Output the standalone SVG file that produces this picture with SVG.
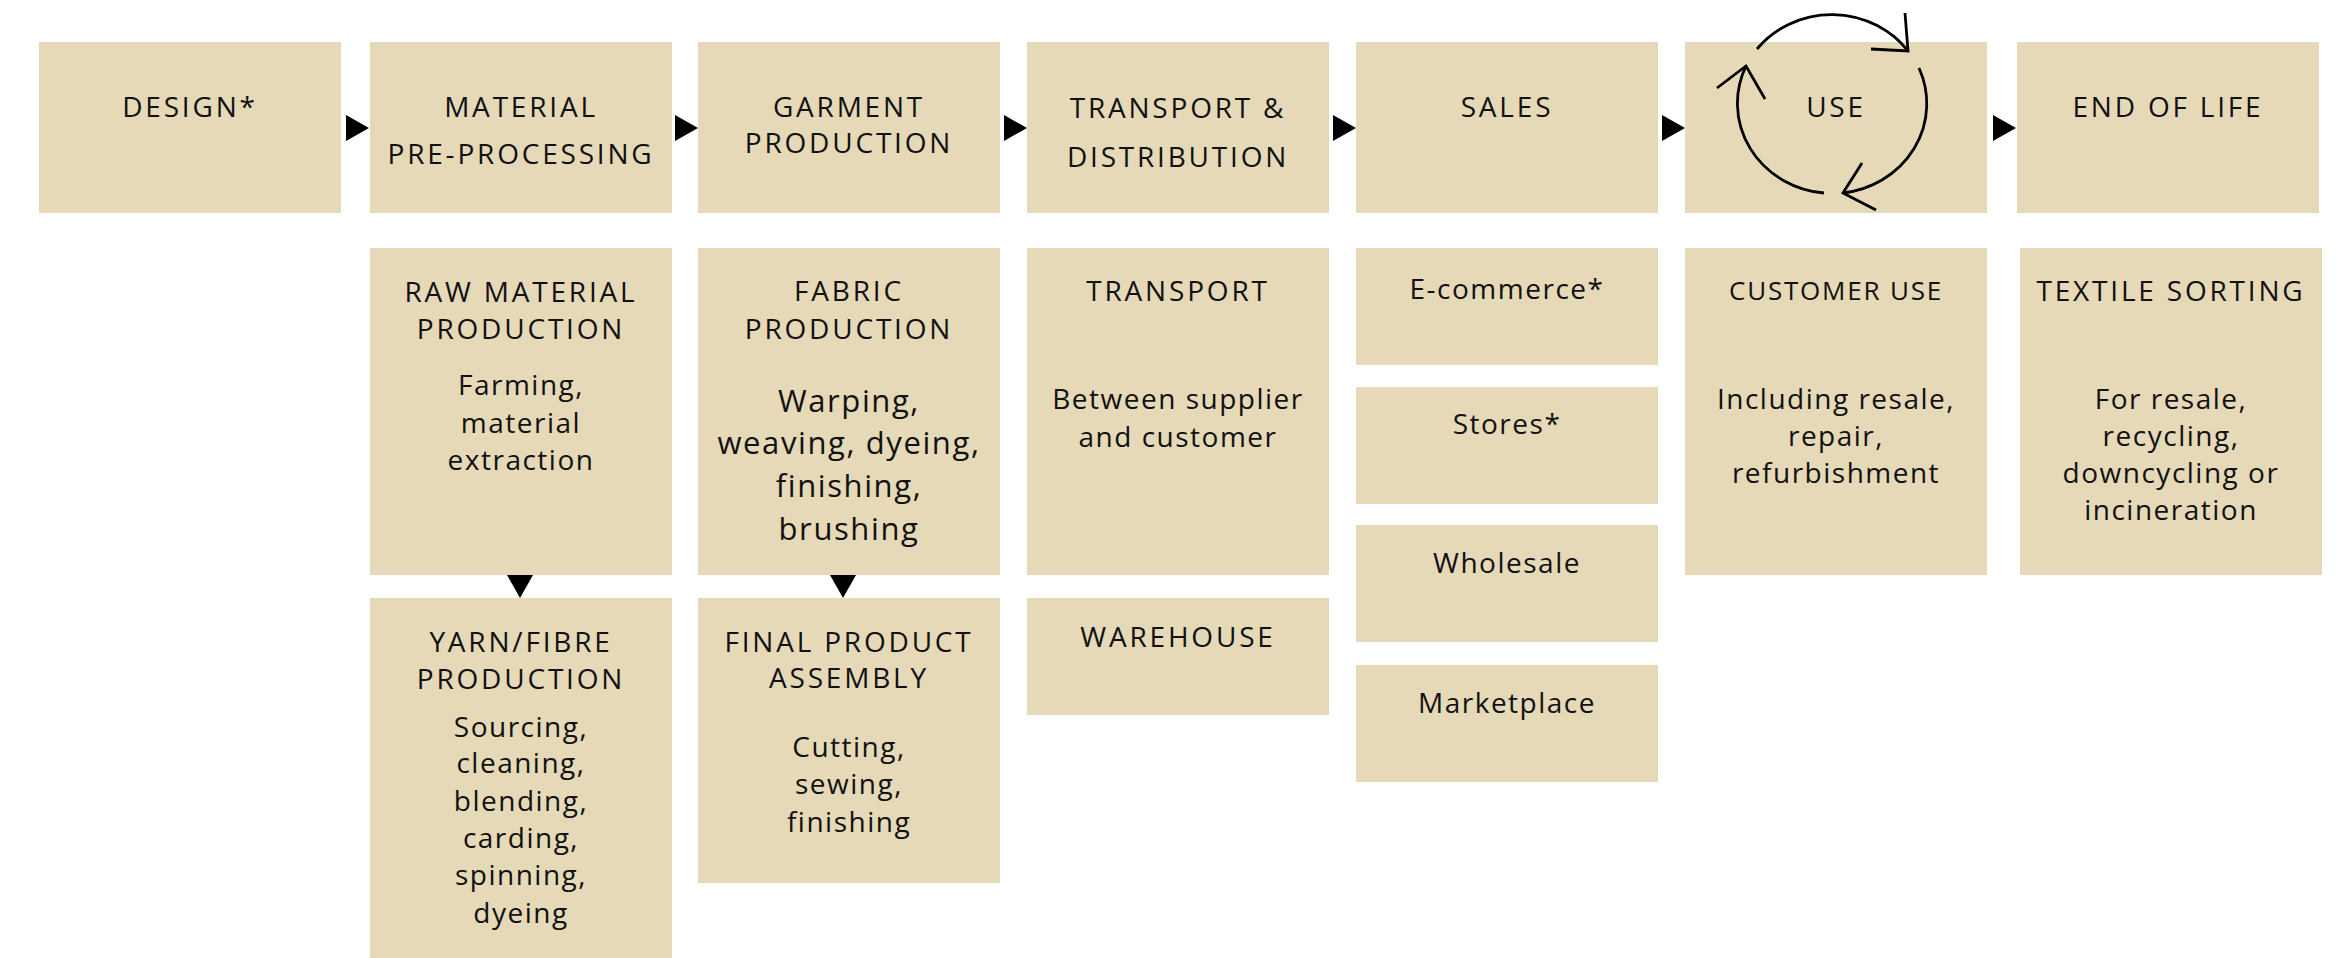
<svg xmlns="http://www.w3.org/2000/svg" width="2342" height="958" viewBox="0 0 2342 958">
  <style>
    .box { fill: #E5D9B7; }
    .hd { font-family: "Open Sans", "Liberation Sans", sans-serif; font-size: 28px; fill: #111; text-anchor: middle; letter-spacing: 2.8px; }
    .hd-s { font-size: 26px; letter-spacing: 1.8px; }
    .tx { font-family: "Open Sans", "Liberation Sans", sans-serif; font-size: 28px; fill: #111; text-anchor: middle; letter-spacing: 1.5px; }
    .tx-l { font-size: 31px; letter-spacing: 1.6px; }
    .arrow { fill: #000; }
    .cycle { fill: none; stroke: #000; stroke-width: 2.8; stroke-linecap: butt; stroke-linejoin: miter; }
  </style>

  <rect width="2342" height="958" fill="#fff"/>

  <!-- Stage headers -->
  <g id="design">
    <rect class="box" x="39" y="42" width="302" height="171"/>
    <text class="hd" x="190" y="117">DESIGN*</text>
  </g>
  <g id="material-pre-processing">
    <rect class="box" x="370" y="42" width="302" height="171"/>
    <text class="hd" x="521" y="117">MATERIAL</text>
    <text class="hd" x="521" y="164">PRE-PROCESSING</text>
  </g>
  <g id="garment-production">
    <rect class="box" x="698" y="42" width="302" height="171"/>
    <text class="hd" x="849" y="117">GARMENT</text>
    <text class="hd" x="849" y="153">PRODUCTION</text>
  </g>
  <g id="transport-distribution">
    <rect class="box" x="1027" y="42" width="302" height="171"/>
    <text class="hd" x="1178" y="118">TRANSPORT &amp;</text>
    <text class="hd" x="1178" y="167">DISTRIBUTION</text>
  </g>
  <g id="sales">
    <rect class="box" x="1356" y="42" width="302" height="171"/>
    <text class="hd" x="1507" y="117">SALES</text>
  </g>
  <g id="use">
    <rect class="box" x="1685" y="42" width="302" height="171"/>
    <text class="hd" x="1836" y="117">USE</text>
    <!-- circular reuse arrows -->
    <path class="cycle" d="M1757,49 A95,90 0 0 1 1908,51"/>
    <path class="cycle" d="M1871,49 L1908,51 L1905,13"/>
    <path class="cycle" d="M1919,68 A95,90 0 0 1 1843,193"/>
    <path class="cycle" d="M1862,163 L1843,193 L1876,210"/>
    <path class="cycle" d="M1824,193 A95,90 0 0 1 1746,66"/>
    <path class="cycle" d="M1717,88 L1746,66 L1765,99"/>
  </g>
  <g id="end-of-life">
    <rect class="box" x="2017" y="42" width="302" height="171"/>
    <text class="hd" x="2168" y="117">END OF LIFE</text>
  </g>

  <!-- Material pre-processing steps -->
  <g id="raw-material-production">
    <rect class="box" x="370" y="248" width="302" height="327"/>
    <text class="hd" x="521" y="302">RAW MATERIAL</text>
    <text class="hd" x="521" y="339">PRODUCTION</text>
    <text class="tx" x="521" y="395">Farming,</text>
    <text class="tx" x="521" y="433">material</text>
    <text class="tx" x="521" y="470">extraction</text>
  </g>
  <g id="yarn-fibre-production">
    <rect class="box" x="370" y="598" width="302" height="360"/>
    <text class="hd" x="521" y="652">YARN/FIBRE</text>
    <text class="hd" x="521" y="689">PRODUCTION</text>
    <text class="tx" x="521" y="737">Sourcing,</text>
    <text class="tx" x="521" y="773">cleaning,</text>
    <text class="tx" x="521" y="811">blending,</text>
    <text class="tx" x="521" y="848">carding,</text>
    <text class="tx" x="521" y="885">spinning,</text>
    <text class="tx" x="521" y="923">dyeing</text>
  </g>

  <!-- Garment production steps -->
  <g id="fabric-production">
    <rect class="box" x="698" y="248" width="302" height="327"/>
    <text class="hd" x="849" y="301">FABRIC</text>
    <text class="hd" x="849" y="339">PRODUCTION</text>
    <text class="tx tx-l" x="849" y="412">Warping,</text>
    <text class="tx tx-l" x="849" y="454">weaving, dyeing,</text>
    <text class="tx tx-l" x="849" y="497">finishing,</text>
    <text class="tx tx-l" x="849" y="540">brushing</text>
  </g>
  <g id="final-product-assembly">
    <rect class="box" x="698" y="598" width="302" height="285"/>
    <text class="hd" x="849" y="652">FINAL PRODUCT</text>
    <text class="hd" x="849" y="688">ASSEMBLY</text>
    <text class="tx" x="849" y="757">Cutting,</text>
    <text class="tx" x="849" y="794">sewing,</text>
    <text class="tx" x="849" y="832">finishing</text>
  </g>

  <!-- Transport & distribution steps -->
  <g id="transport">
    <rect class="box" x="1027" y="248" width="302" height="327"/>
    <text class="hd" x="1178" y="301">TRANSPORT</text>
    <text class="tx" x="1178" y="409">Between supplier</text>
    <text class="tx" x="1178" y="447">and customer</text>
  </g>
  <g id="warehouse">
    <rect class="box" x="1027" y="598" width="302" height="117"/>
    <text class="hd" x="1178" y="647">WAREHOUSE</text>
  </g>

  <!-- Sales channels -->
  <g id="e-commerce">
    <rect class="box" x="1356" y="248" width="302" height="117"/>
    <text class="tx" x="1507" y="299">E-commerce*</text>
  </g>
  <g id="stores">
    <rect class="box" x="1356" y="387" width="302" height="117"/>
    <text class="tx" x="1507" y="434">Stores*</text>
  </g>
  <g id="wholesale">
    <rect class="box" x="1356" y="525" width="302" height="117"/>
    <text class="tx" x="1507" y="573">Wholesale</text>
  </g>
  <g id="marketplace">
    <rect class="box" x="1356" y="665" width="302" height="117"/>
    <text class="tx" x="1507" y="713">Marketplace</text>
  </g>

  <!-- Use phase -->
  <g id="customer-use">
    <rect class="box" x="1685" y="248" width="302" height="327"/>
    <text class="hd hd-s" x="1836" y="300">CUSTOMER USE</text>
    <text class="tx" x="1836" y="409">Including resale,</text>
    <text class="tx" x="1836" y="446">repair,</text>
    <text class="tx" x="1836" y="483">refurbishment</text>
  </g>

  <!-- End of life -->
  <g id="textile-sorting">
    <rect class="box" x="2020" y="248" width="302" height="327"/>
    <text class="hd" x="2171" y="301">TEXTILE SORTING</text>
    <text class="tx" x="2171" y="409">For resale,</text>
    <text class="tx" x="2171" y="446">recycling,</text>
    <text class="tx" x="2171" y="483">downcycling or</text>
    <text class="tx" x="2171" y="520">incineration</text>
  </g>

  <!-- Connectors -->
  <g id="connectors">
    <polygon class="arrow" points="346,115 346,141 369,128"/>
    <polygon class="arrow" points="675,115 675,141 698,128"/>
    <polygon class="arrow" points="1004,115 1004,141 1027,128"/>
    <polygon class="arrow" points="1333,115 1333,141 1356,128"/>
    <polygon class="arrow" points="1662,115 1662,141 1685,128"/>
    <polygon class="arrow" points="1993,115 1993,141 2016,128"/>
    <polygon class="arrow" points="507,575 533,575 520,598"/>
    <polygon class="arrow" points="830,575 856,575 843,598"/>
  </g>
</svg>
